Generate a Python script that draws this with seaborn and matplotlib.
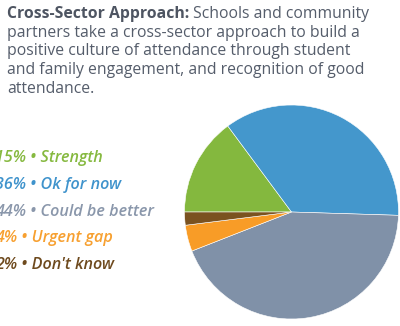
import matplotlib
matplotlib.use("Agg")
import matplotlib.pyplot as plt
import seaborn as sns

labels = ["Strength", "Ok for now", "Could be better", "Urgent gap", "Don't know"]
values = [15, 36, 44, 4, 2]
colors = ["#84b83e", "#4497cc", "#8091a8", "#f89c27", "#7a5220"]
text_colors = ["#86b940", "#3f93cc", "#8a97ab", "#f7a030", "#6e4a1e"]

title_bold = "Cross-Sector Approach:"
title_rest = " Schools and community"
title_lines = [
    "partners take a cross-sector approach to build a",
    "positive culture of attendance through student",
    "and family engagement, and recognition of good",
    "attendance.",
]

sns.set_theme(style="white")
plt.rcParams["font.family"] = ["Open Sans", "DejaVu Sans"]

W, H = 400, 326
fig = plt.figure(figsize=(W / 100, H / 100), dpi=100)
fig.patch.set_facecolor("white")

cx, cy, r = 291.5, 212, 107
ax = fig.add_axes([(cx - r) / W, (H - cy - r) / H, 2 * r / W, 2 * r / H])
ax.pie(values, colors=colors, startangle=180, counterclock=False,
       wedgeprops=dict(linewidth=0.4, edgecolor="white"))
ax.set_xlim(-1, 1)
ax.set_ylim(-1, 1)
ax.set_aspect("auto")
ax.axis("off")

title_color = "#555d6b"
fs_title = 11.3
x0 = 7 / W
def yb(px):
    return 1 - px / H

t1 = fig.text(x0, yb(18), title_bold, fontsize=fs_title, fontweight="bold",
              color="#4e5562", va="baseline", ha="left")
fig.canvas.draw()
bb = t1.get_window_extent(fig.canvas.get_renderer())
fig.text(bb.x1 / W, yb(18), title_rest, fontsize=fs_title, color=title_color,
         va="baseline", ha="left")
for i, line in enumerate(title_lines):
    fig.text(x0, yb(18 + 18.7 * (i + 1)), line, fontsize=fs_title,
             color=title_color, va="baseline", ha="left")

leg_y = [162, 189, 216, 242, 269]
for lab, v, c, y in zip(labels, values, text_colors, leg_y):
    fig.text(-5 / W, yb(y), f"{v}% \u2022 {lab}", fontsize=11.6, fontweight="semibold",
             fontstyle="italic", color=c, va="baseline", ha="left")

fig.savefig("out.png", dpi=100)
